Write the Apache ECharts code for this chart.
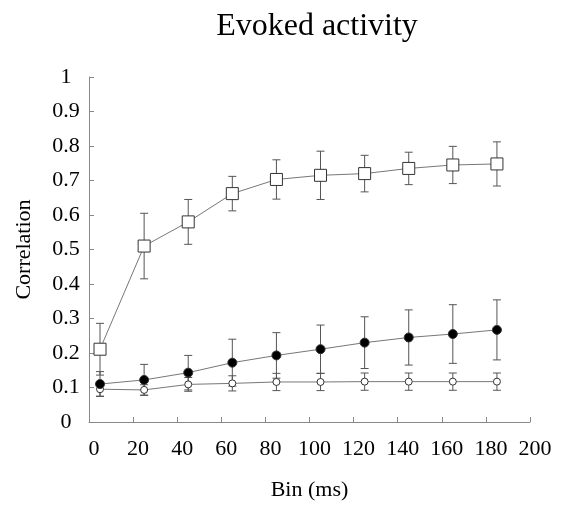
<!DOCTYPE html>
<html><head><meta charset="utf-8">
<script src="https://cdn.jsdelivr.net/npm/echarts@6/dist/echarts.min.js"></script>
<style>html,body{margin:0;padding:0;background:#fff}#c{width:567px;height:512px}</style>
</head><body><div id="c"></div>
<script>
const bins = [5, 25, 45, 65, 85, 105, 125, 145, 165, 185];
const squareMean = [0.211, 0.510, 0.580, 0.662, 0.703, 0.715, 0.720, 0.735, 0.745, 0.748];
const squareErr  = [0.075, 0.095, 0.065, 0.050, 0.057, 0.070, 0.053, 0.047, 0.054, 0.064];
const filledMean = [0.110, 0.122, 0.143, 0.172, 0.193, 0.211, 0.230, 0.245, 0.255, 0.267];
const filledErr  = [0.036, 0.045, 0.050, 0.068, 0.066, 0.070, 0.075, 0.080, 0.085, 0.087];
const openMean   = [0.095, 0.093, 0.109, 0.112, 0.116, 0.116, 0.117, 0.117, 0.117, 0.117];
const openErr    = [0.020, 0.015, 0.020, 0.022, 0.025, 0.025, 0.025, 0.025, 0.025, 0.025];

const font = '"Liberation Serif", "DejaVu Serif", serif';
const chart = echarts.init(document.getElementById('c'));

function errData(mean, err) {
  return bins.map((x, i) => [x, mean[i] - err[i], mean[i] + err[i]]);
}
function errSeries(mean, err) {
  return {
    type: 'custom', z: 1, silent: true,
    data: errData(mean, err),
    renderItem: function (params, api) {
      const lo = api.coord([api.value(0), api.value(1)]);
      const hi = api.coord([api.value(0), api.value(2)]);
      const w = 4;
      const st = { stroke: '#555', lineWidth: 1 };
      return { type: 'group', children: [
        { type: 'line', shape: { x1: lo[0], y1: lo[1], x2: hi[0], y2: hi[1] }, style: st },
        { type: 'line', shape: { x1: lo[0] - w, y1: lo[1], x2: lo[0] + w, y2: lo[1] }, style: st },
        { type: 'line', shape: { x1: hi[0] - w, y1: hi[1], x2: hi[0] + w, y2: hi[1] }, style: st }
      ]};
    }
  };
}
function lineSeries(mean, symbol, size, fill) {
  return {
    type: 'line', z: 3, data: bins.map((x, i) => [x, mean[i]]),
    symbol: symbol, symbolSize: size, showAllSymbol: true,
    lineStyle: { color: '#777', width: 1 },
    itemStyle: { color: fill, borderColor: '#333', borderWidth: 1 },
    emphasis: { disabled: true }
  };
}

chart.setOption({
  animation: false,
  backgroundColor: '#fff',
  title: {
    text: 'Evoked activity', left: 312, top: 6, textAlign: 'center',
    textStyle: { fontFamily: font, fontSize: 32, fontWeight: 'normal', color: '#000' }
  },
  grid: { left: 89, right: 37, top: 77, bottom: 90 },
  xAxis: {
    type: 'value', min: 0, max: 200, interval: 20,
    name: 'Bin (ms)', nameLocation: 'middle', nameGap: 57,
    nameTextStyle: { fontFamily: font, fontSize: 22, color: '#000' },
    axisLine: { lineStyle: { color: '#888', width: 1 } },
    axisTick: { inside: true, length: 5, lineStyle: { color: '#888' } },
    axisLabel: { fontFamily: font, fontSize: 22, color: '#000', margin: 16, padding: [0, 0, 0, 10] },
    splitLine: { show: false }
  },
  yAxis: {
    type: 'value', min: 0, max: 1, interval: 0.1,
    name: 'Correlation', nameLocation: 'middle', nameGap: 54, nameRotate: 90,
    nameTextStyle: { fontFamily: font, fontSize: 22, color: '#000' },
    axisLine: { show: true, lineStyle: { color: '#888', width: 1 } },
    axisTick: { show: true, inside: true, length: 5, lineStyle: { color: '#888' } },
    axisLabel: { fontFamily: font, fontSize: 22, color: '#000', margin: 23, align: 'center' },
    splitLine: { show: false }
  },
  series: [
    errSeries(squareMean, squareErr),
    errSeries(filledMean, filledErr),
    errSeries(openMean, openErr),
    lineSeries(openMean, 'circle', 7, '#fff'),
    lineSeries(filledMean, 'circle', 9, '#000'),
    lineSeries(squareMean, 'rect', 12, '#fff')
  ]
});
</script></body></html>
